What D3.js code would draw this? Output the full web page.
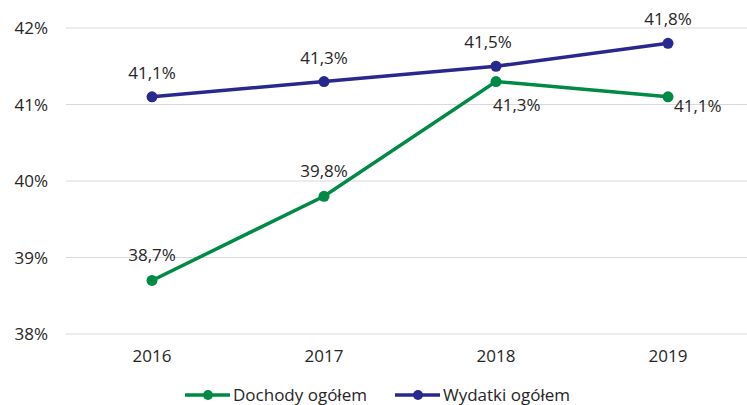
<!DOCTYPE html>
<html>
<head>
<meta charset="utf-8">
<script src="https://cdn.jsdelivr.net/npm/d3@7"></script>
<style>
  body { margin: 0; background: #fff; }
  svg { display: block; font-family: 'Open Sans', sans-serif; }
</style>
</head>
<body>
<svg id="chart" width="747" height="405"></svg>
<script>
// data
const years = ['2016', '2017', '2018', '2019']
const dochody = [38.7, 39.8, 41.3, 41.1]
const wydatki = [41.1, 41.3, 41.5, 41.8]
const yTicks = [38, 39, 40, 41, 42]

const seriesNames = ['Dochody ogółem', 'Wydatki ogółem']
const colors = ['#008a45', '#29288f']

// label placement per point [dx, dy, anchor]
const dochodyLabelPos = [[0, -19, 'middle'], [0, -19, 'middle'], [-3, 29, 'start'], [6, 15, 'start']]
const wydatkiLabelPos = [[0, -18, 'middle'], [0, -18, 'middle'], [-8, -18, 'middle'], [0, -18, 'middle']]

const width = 747
const height = 405
const margin = { top: 28, right: -7, bottom: 71, left: 66 }

const svg = d3.select('#chart')

const x = d3
  .scalePoint()
  .domain(years)
  .range([margin.left, width - margin.right])
  .padding(0.5)

const y = d3
  .scaleLinear()
  .domain([38, 42])
  .range([height - margin.bottom, margin.top])

// grid
svg
  .append('g')
  .attr('id', 'grid')
  .selectAll('line')
  .data(yTicks)
  .join('line')
  .attr('x1', margin.left)
  .attr('x2', width)
  .attr('y1', (d) => y(d))
  .attr('y2', (d) => y(d))
  .attr('stroke', '#d9d9d9')
  .attr('stroke-width', 1)

// y axis labels
svg
  .append('g')
  .attr('id', 'yAxis')
  .selectAll('text')
  .data(yTicks)
  .join('text')
  .attr('x', 48)
  .attr('y', (d) => y(d) + 6)
  .attr('text-anchor', 'end')
  .attr('font-size', 17)
  .attr('fill', '#262626')
  .text((d) => d + '%')

// x axis labels
svg
  .append('g')
  .attr('id', 'xAxis')
  .selectAll('text')
  .data(years)
  .join('text')
  .attr('x', (d) => x(d))
  .attr('y', 362)
  .attr('text-anchor', 'middle')
  .attr('font-size', 17)
  .attr('fill', '#262626')
  .text((d) => d)

const fmt = (v) => d3.format('.1f')(v).replace('.', ',') + '%'

const line = d3
  .line()
  .x((d, i) => x(years[i]))
  .y((d) => y(d))

const series = [
  { values: dochody, labels: dochodyLabelPos },
  { values: wydatki, labels: wydatkiLabelPos },
]

series.forEach((s, si) => {
  const g = svg.append('g').attr('id', 'series' + si)

  g.append('path')
    .attr('d', line(s.values))
    .attr('fill', 'none')
    .attr('stroke', colors[si])
    .attr('stroke-width', 3.5)

  g.selectAll('circle')
    .data(s.values)
    .join('circle')
    .attr('cx', (d, i) => x(years[i]))
    .attr('cy', (d) => y(d))
    .attr('r', 5.5)
    .attr('fill', colors[si])

  g.selectAll('text')
    .data(s.values)
    .join('text')
    .attr('x', (d, i) => x(years[i]) + s.labels[i][0])
    .attr('y', (d, i) => y(d) + s.labels[i][1])
    .attr('text-anchor', (d, i) => s.labels[i][2])
    .attr('font-size', 17)
    .attr('fill', '#262626')
    .text((d) => fmt(d))
})

// legend (nudged up slightly so descenders stay inside the frame)
const legendX = [185, 395]
const legend = svg
  .append('g')
  .attr('id', 'legend')
  .selectAll('g')
  .data(seriesNames)
  .join('g')
  .attr('transform', (d, i) => `translate(${legendX[i]},395)`)

legend
  .append('line')
  .attr('x1', 0)
  .attr('x2', 45)
  .attr('stroke', (d, i) => colors[i])
  .attr('stroke-width', 3.5)

legend
  .append('circle')
  .attr('cx', 23)
  .attr('r', 5)
  .attr('fill', (d, i) => colors[i])

legend
  .append('text')
  .attr('x', 48)
  .attr('y', 6)
  .attr('font-size', 17)
  .attr('fill', '#262626')
  .text((d) => d)
</script>
</body>
</html>
